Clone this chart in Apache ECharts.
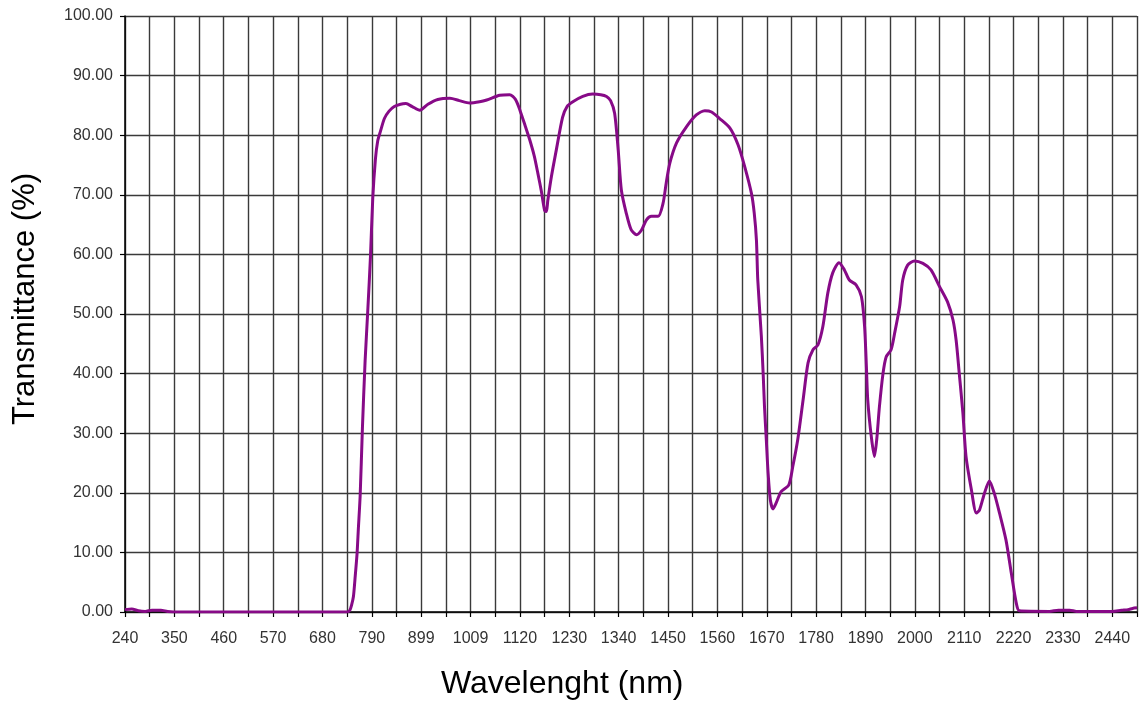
<!DOCTYPE html>
<html>
<head>
<meta charset="utf-8">
<title>Transmittance</title>
<script src="https://cdn.jsdelivr.net/npm/echarts@6/dist/echarts.min.js"></script>
<style>
  html, body { margin: 0; padding: 0; background: #fff; }
  #chart { width: 1140px; height: 704px; }
</style>
</head>
<body>
<div id="chart"></div>
<script>
// --- data ---
const wavelengths = [
  240, 255, 270, 285, 300, 320, 335, 360, 400, 500, 600, 700, 735, 741, 745, 749, 753, 757, 760, 764,
  769, 775, 781, 787, 792, 798, 803, 809, 818, 828, 840, 854, 866, 880, 897, 915, 937, 964, 985, 1008,
  1030, 1046, 1075, 1097, 1110, 1120, 1132, 1142, 1152, 1160, 1168, 1175, 1179, 1182, 1190, 1201, 1215, 1225, 1238, 1260,
  1282, 1300, 1313, 1322, 1331, 1339, 1346, 1357, 1368, 1380, 1391, 1402, 1413, 1428, 1439, 1446, 1454, 1469, 1491, 1513,
  1532, 1547, 1565, 1588, 1606, 1621, 1636, 1642, 1647, 1650, 1658, 1662, 1665, 1669, 1673, 1678, 1684, 1691, 1702, 1719,
  1728, 1739, 1751, 1762, 1773, 1784, 1795, 1806, 1817, 1831, 1843, 1854, 1869, 1881, 1888, 1892, 1895, 1903, 1910, 1915,
  1921, 1929, 1936, 1947, 1955, 1966, 1973, 1984, 1999, 2018, 2036, 2055, 2073, 2085, 2092, 2099, 2107, 2114, 2126, 2137,
  2144, 2155, 2166, 2177, 2189, 2203, 2215, 2226, 2233, 2300, 2320, 2345, 2360, 2440, 2460, 2475, 2485, 2495
];
const transmittance = [
  0.4, 0.5, 0.2, 0.1, 0.3, 0.3, 0.1, 0.0, 0.0, 0.0, 0.0, 0.0, 0.0, 0.3, 1.2, 2.6, 6.0, 9.7, 14.0, 19.5,
  30.8, 42.1, 50.6, 59.7, 69.3, 76.0, 79.0, 80.6, 82.8, 84.0, 84.8, 85.2, 85.3, 84.8, 84.2, 85.2, 86.0, 86.2, 85.8, 85.4,
  85.6, 85.9, 86.7, 86.8, 86.0, 84.2, 81.5, 79.2, 76.5, 73.6, 70.5, 67.4, 67.2, 69.0, 73.0, 77.5, 83.0, 84.8, 85.6, 86.5,
  86.9, 86.8, 86.5, 85.8, 83.7, 77.5, 70.8, 66.9, 64.1, 63.3, 64.1, 65.8, 66.4, 66.4, 68.6, 72.0, 75.3, 78.7, 81.4, 83.4,
  84.1, 83.9, 82.8, 81.2, 78.4, 74.7, 70.2, 67.0, 62.4, 55.7, 46.2, 40.0, 34.4, 28.9, 23.3, 18.8, 17.3, 18.3, 20.2, 21.3,
  24.4, 28.9, 35.6, 41.8, 44.0, 44.8, 47.9, 53.5, 56.9, 58.6, 57.4, 55.7, 54.9, 52.9, 47.9, 41.2, 35.6, 29.4, 26.1, 28.9,
  34.4, 40.0, 42.8, 44.0, 46.8, 51.2, 55.7, 58.2, 58.9, 58.5, 57.4, 54.6, 52.0, 49.0, 45.6, 40.0, 33.4, 26.1, 20.5, 16.6,
  17.1, 19.9, 22.0, 19.9, 16.5, 12.1, 6.5, 1.5, 0.2, 0.1, 0.3, 0.3, 0.1, 0.1, 0.3, 0.4, 0.6, 0.7
];
// labels every second grid line (as printed on the original)
const xTickLabels = [
  '240', '350', '460', '570', '680', '790', '899', '1009', '1120', '1230', '1340',
  '1450', '1560', '1670', '1780', '1890', '2000', '2110', '2220', '2330', '2440'
];

// --- config ---
const X_MIN = 240;
const X_MAX = 2495;
const X_STEP = 55;
const LINE_COLOR = '#870a87';
const GRID_COLOR = '#3a3a3a';
const LABEL_FONT = 'Liberation Sans';

const chart = echarts.init(document.getElementById('chart'), null, { renderer: 'canvas' });

const points = wavelengths.map((w, i) => [w, transmittance[i]]);

const option = {
  animation: false,
  backgroundColor: '#fff',
  grid: {
    left: 125,
    right: 2,
    top: 16,
    bottom: 92
  },
  title: {
    text: 'Wavelenght (nm)',
    left: 441,
    top: 668,
    padding: 0,
    textStyle: {
      fontFamily: LABEL_FONT,
      fontSize: 32,
      fontWeight: 'normal',
      color: '#000'
    }
  },
  graphic: [{
    type: 'text',
    x: 25,
    y: 299,
    rotation: Math.PI / 2,
    style: {
      text: 'Transmittance (%)',
      font: '31px "Liberation Sans"',
      fill: '#000',
      align: 'center',
      verticalAlign: 'middle'
    }
  }],
  xAxis: {
    type: 'value',
    min: X_MIN,
    max: X_MAX,
    interval: X_STEP,
    axisLine: { lineStyle: { color: '#000', width: 1.5 } },
    axisTick: { show: true, length: 5, lineStyle: { color: '#000', width: 1.2 } },
    axisLabel: {
      margin: 19,
      fontFamily: LABEL_FONT,
      fontSize: 16,
      color: '#333',
      formatter: (v) => {
        const k = Math.round((v - X_MIN) / X_STEP);
        if (k % 2 !== 0) return '';
        return xTickLabels[k / 2] || '';
      }
    },
    splitLine: { show: true, lineStyle: { color: GRID_COLOR, width: 1.4 } }
  },
  yAxis: {
    type: 'value',
    min: 0,
    max: 100,
    interval: 10,
    axisLine: { show: true, lineStyle: { color: '#000', width: 1.5 } },
    axisTick: { show: true, length: 5, lineStyle: { color: '#000', width: 1.2 } },
    axisLabel: {
      margin: 12,
      fontFamily: LABEL_FONT,
      fontSize: 16,
      color: '#333',
      formatter: (v) => v.toFixed(2)
    },
    splitLine: { show: true, lineStyle: { color: GRID_COLOR, width: 1.4 } }
  },
  series: [{
    type: 'line',
    data: points,
    showSymbol: false,
    smooth: 0.25,
    lineStyle: { color: LINE_COLOR, width: 3 },
    itemStyle: { color: LINE_COLOR }
  }]
};

chart.setOption(option);
</script>
</body>
</html>
